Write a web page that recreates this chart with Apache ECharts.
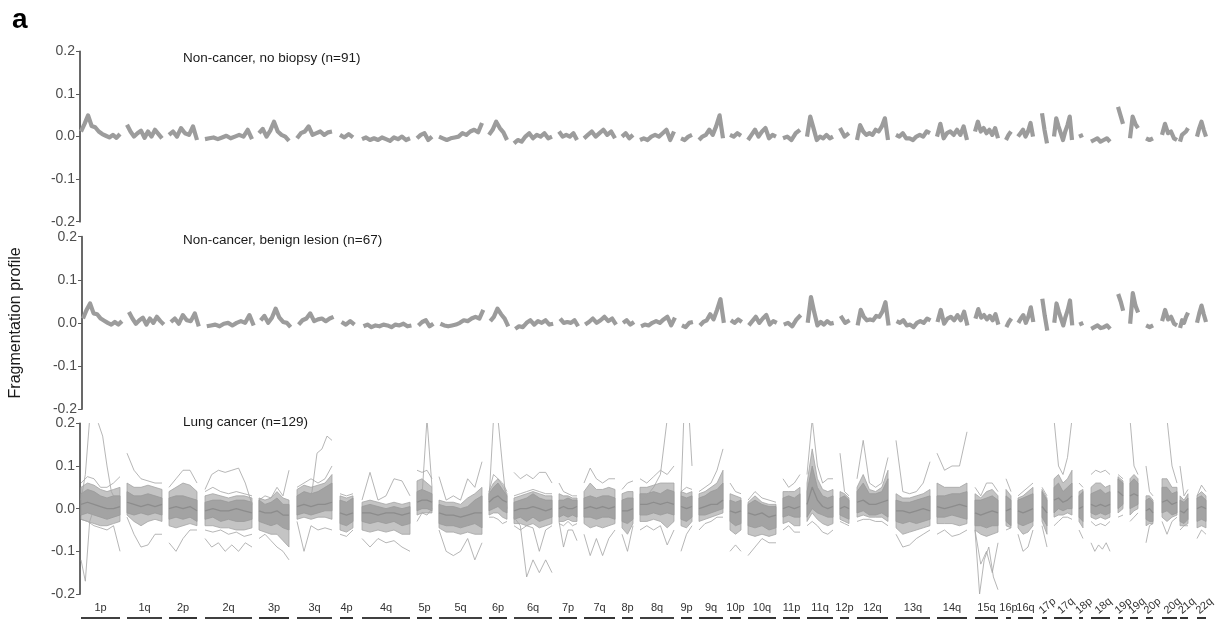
<!DOCTYPE html>
<html><head><meta charset="utf-8">
<script src="https://cdn.jsdelivr.net/npm/echarts@6/dist/echarts.min.js"></script>
<style>html,body{margin:0;padding:0;background:#fff}#c{width:1218px;height:632px}</style>
</head><body><div id="c"></div>
<script>
// ---- chromosome arms (x in genomic bin units) ----
const ARMS = ['1p','1q','2p','2q','3p','3q','4p','4q','5p','5q','6p','6q','7p','7q','8p','8q','9p','9q','10p','10q','11p','11q','12p','12q','13q','14q','15q','16p','16q','17p','17q','18p','18q','19p','19q','20p','20q','21q','22q'];
const ARM_START = [0.5,23.5,44.5,62.5,89.5,108.5,130,141,168.5,179.5,204.5,217,239.5,252,271,280,300.5,309.5,325,334,351.5,363.5,380,388.5,408,428.5,447.5,463,469,481,487,499.5,505.5,519,525,533,541,550,558.5];
const ARM_END   = [20,41,58.5,86,104.5,126,136.5,165,176,201,213.5,236,248.5,267.5,276.5,297,306,321.5,330.5,348,360,376.5,384.5,404,425,443.5,459,465.5,476.5,483.5,496,501.5,515,521.5,529,536.5,548.5,554,563];
const Y_TICKS = [-0.2,-0.1,0.0,0.1,0.2];
const PANEL_TITLES = ['Non-cancer, no biopsy (n=91)','Non-cancer, benign lesion (n=67)','Lung cancer (n=129)'];

// ---- panel 1: non-cancer, no biopsy (profile per arm) ----
const NOBIOPSY = [
 [0.012,0.03,0.05,0.025,0.022,0.012,0.006,0.002,-0.002,0.004,-0.003,0.006],
 [0.028,0.012,0.0,0.008,0.014,-0.003,0.012,0.0,0.016,0.006,-0.004],
 [0.004,0.012,0.0,0.02,0.008,0.004,0.024,-0.008],
 [-0.006,-0.004,-0.002,-0.006,-0.002,0.002,-0.004,0.0,0.004,0.0,0.016,-0.006],
 [0.008,0.018,0.0,0.014,0.035,0.012,0.004,0.0,-0.01],
 [-0.004,0.008,0.012,0.024,0.004,0.008,0.012,0.004,0.01,0.012],
 [0.004,-0.002,0.006,-0.002],
 [-0.006,-0.002,-0.008,-0.004,-0.008,-0.002,-0.006,-0.01,-0.002,-0.006,0.0,-0.008,-0.004],
 [-0.004,0.004,0.008,-0.008,0.0],
 [0.0,-0.004,-0.008,-0.004,-0.002,0.0,0.008,0.004,0.012,0.016,0.01,0.032],
 [0.004,0.016,0.035,0.02,0.01,-0.008],
 [-0.016,-0.008,-0.012,0.0,0.008,-0.004,0.004,0.0,0.008,-0.004,0.0],
 [0.012,0.0,0.004,0.0,0.008,-0.008],
 [-0.004,0.004,0.012,0.0,0.008,0.016,0.004,0.012,-0.004],
 [0.0,0.008,-0.004,0.004],
 [-0.008,-0.004,-0.008,0.0,0.004,0.0,0.008,0.016,-0.008,0.012],
 [-0.004,-0.008,0.0,0.004],
 [-0.008,0.0,0.004,0.016,0.004,0.024,0.05,-0.004],
 [0.004,0.0,0.008,0.002],
 [-0.008,0.004,0.016,0.0,0.012,0.02,-0.004,0.004,0.0],
 [-0.004,0.0,-0.008,0.008,0.016],
 [0.0,0.047,0.02,-0.008,0.0,-0.004,0.004,-0.004,0.0],
 [0.02,0.0,0.008],
 [-0.008,0.027,0.012,0.004,0.008,0.004,0.016,0.012,0.024,0.043,-0.008],
 [0.004,0.0,0.008,-0.004,-0.004,-0.008,0.0,0.004,0.0,0.012,0.008],
 [0.0,0.03,-0.004,0.008,0.012,0.004,0.016,0.004,0.024,-0.008],
 [0.012,0.035,0.012,0.02,0.008,0.016,0.004,0.02,-0.004],
 [-0.008,0.004,0.012],
 [0.0,0.008,0.016,0.0,0.012,0.032,0.0],
 [0.055,0.016,-0.016],
 [0.0,0.043,0.024,0.008,-0.008,0.012,0.027,0.047,-0.008],
 [0.0,0.004],
 [-0.012,-0.008,-0.004,-0.012,-0.008,-0.004,-0.012],
 [0.07,0.05,0.03],
 [-0.004,0.047,0.03,0.02],
 [-0.004,-0.008,-0.004],
 [0.004,0.03,0.008,0.012,-0.004,-0.008],
 [-0.012,0.004,0.0,0.012,0.02],
 [0.0,0.02,0.035,0.016,0.0]
];

// ---- panel 2: non-cancer, benign lesion ----
const BENIGN = [
 [0.01,0.03,0.045,0.022,0.02,0.01,0.005,0.0,-0.004,0.002,-0.004,0.004],
 [0.025,0.01,-0.002,0.006,0.012,-0.004,0.01,0.0,0.014,0.004,-0.004],
 [0.002,0.01,-0.002,0.018,0.006,0.004,0.022,-0.008],
 [-0.008,-0.006,-0.004,-0.008,-0.002,0.0,-0.006,0.0,0.004,0.0,0.018,-0.006],
 [0.006,0.016,0.0,0.012,0.033,0.012,0.002,0.0,-0.01],
 [-0.004,0.006,0.01,0.022,0.004,0.008,0.01,0.004,0.01,0.014],
 [0.002,-0.004,0.004,-0.004],
 [-0.008,-0.004,-0.01,-0.006,-0.008,-0.004,-0.006,-0.01,-0.004,-0.006,-0.002,-0.008,-0.006],
 [-0.006,0.002,0.006,-0.008,-0.002],
 [-0.002,-0.006,-0.008,-0.006,-0.004,0.0,0.006,0.004,0.01,0.014,0.01,0.03],
 [0.004,0.014,0.033,0.02,0.01,-0.008],
 [-0.014,-0.008,-0.01,0.0,0.006,-0.004,0.004,0.0,0.006,-0.004,-0.002],
 [0.01,0.0,0.002,0.0,0.006,-0.008],
 [-0.004,0.002,0.01,0.0,0.006,0.014,0.004,0.01,-0.004],
 [0.0,0.006,-0.004,0.002],
 [-0.008,-0.004,-0.006,0.0,0.004,0.0,0.008,0.014,-0.006,0.012],
 [-0.006,-0.01,0.0,0.002],
 [-0.006,0.002,0.006,0.02,0.008,0.03,0.055,0.0],
 [0.006,0.0,0.008,0.002],
 [-0.006,0.004,0.014,0.0,0.01,0.018,-0.004,0.004,0.0],
 [-0.004,0.0,-0.008,0.008,0.018],
 [0.0,0.06,0.025,-0.006,0.002,-0.004,0.004,-0.002,0.0],
 [0.016,0.0,0.006],
 [-0.006,0.03,0.014,0.006,0.008,0.006,0.016,0.014,0.026,0.048,-0.006],
 [0.004,0.0,0.006,-0.006,-0.004,-0.01,0.0,0.004,0.0,0.01,0.006],
 [0.002,0.03,-0.002,0.01,0.014,0.006,0.018,0.006,0.026,-0.006],
 [0.01,0.032,0.012,0.018,0.008,0.016,0.006,0.02,-0.004],
 [-0.01,0.002,0.01],
 [0.0,0.01,0.018,0.0,0.014,0.036,0.002],
 [0.056,0.016,-0.018],
 [0.0,0.045,0.026,0.01,-0.006,0.014,0.03,0.052,-0.006],
 [-0.004,0.0],
 [-0.014,-0.01,-0.006,-0.012,-0.01,-0.006,-0.014],
 [0.067,0.05,0.028],
 [-0.002,0.069,0.04,0.024],
 [-0.006,-0.01,-0.006],
 [0.004,0.03,0.008,0.014,-0.002,-0.006],
 [-0.012,0.006,0.0,0.014,0.024],
 [0.0,0.022,0.04,0.02,0.002]
];

// ---- panel 3: lung cancer ----
const LUNG_MID = [
 [0.01,0.015,0.01,0.005,0.0,0.0,0.005],
 [0.015,0.01,0.005,0.01,0.005,0.01],
 [0.0,0.005,0.0,0.005,-0.005],
 [-0.005,0.0,-0.005,-0.005,0.0,-0.005,-0.01],
 [-0.005,-0.01,-0.01,-0.005,-0.015,-0.015],
 [0.005,0.01,0.005,0.01,0.01,0.015],
 [-0.01,-0.015,-0.01],
 [-0.01,-0.01,-0.015,-0.01,-0.01,-0.015,-0.01],
 [0.015,0.02,0.02,0.015],
 [-0.01,-0.015,-0.015,-0.02,-0.015,-0.01,-0.01],
 [0.015,0.025,0.03,0.02,0.015],
 [-0.005,0.0,0.0,0.005,0.0,-0.005,0.0],
 [0.0,0.005,0.0,0.0,0.005],
 [0.0,0.005,0.0,0.005,0.0,0.005],
 [-0.005,-0.005,0.0],
 [0.01,0.01,0.015,0.01,0.015,0.01],
 [0.005,0.0,0.005],
 [0.0,0.005,0.01,0.01,0.02],
 [-0.005,-0.01,-0.005],
 [-0.01,-0.015,-0.01,-0.02,-0.015],
 [0.0,0.005,0.0,0.005],
 [0.01,0.05,0.02,0.005,0.0,0.005],
 [0.0,0.005,0.0],
 [0.015,0.02,0.01,0.01,0.015,0.02],
 [-0.005,-0.005,-0.01,-0.005,0.0,-0.005],
 [0.005,0.0,0.005,0.01,0.005],
 [-0.01,-0.015,-0.01,-0.005,-0.01],
 [-0.005,0.0],
 [-0.005,-0.01,-0.005,0.0],
 [0.005,-0.01],
 [0.02,0.025,0.015,0.02,0.03],
 [0.0,0.005],
 [0.01,0.005,0.01,0.005,0.01],
 [0.04,0.03],
 [0.03,0.035,0.03],
 [-0.005,0.0,-0.01],
 [0.015,0.02,0.01,0.015],
 [-0.005,-0.01,0.0],
 [0.0,0.005,0.0]
];
// densest part of the lung cancer profiles
const LUNG_CORE_HI = [
 [0.035,0.045,0.04,0.03,0.025,0.03,0.03],
 [0.04,0.03,0.03,0.035,0.03,0.025],
 [0.025,0.03,0.03,0.025,0.02],
 [0.015,0.02,0.02,0.015,0.02,0.02,0.015],
 [0.02,0.01,0.015,0.025,0.01,0.01],
 [0.03,0.04,0.035,0.04,0.05,0.06],
 [0.02,0.015,0.025],
 [0.005,0.01,0.005,0.0,0.005,0.0,0.005],
 [0.04,0.045,0.04,0.035],
 [0.01,0.005,0.005,0.0,0.005,0.02,0.03],
 [0.035,0.05,0.06,0.045,0.03],
 [0.015,0.02,0.025,0.035,0.025,0.02,0.02],
 [0.02,0.02,0.025,0.02,0.02],
 [0.025,0.03,0.025,0.03,0.03,0.025],
 [0.02,0.025,0.025],
 [0.035,0.035,0.04,0.035,0.045,0.04],
 [0.03,0.025,0.03],
 [0.025,0.03,0.04,0.045,0.06],
 [0.02,0.015,0.02],
 [0.01,0.02,0.01,0.005,0.005],
 [0.025,0.03,0.025,0.035],
 [0.04,0.1,0.05,0.03,0.025,0.03],
 [0.025,0.03,0.02],
 [0.04,0.06,0.035,0.035,0.04,0.07],
 [0.02,0.015,0.015,0.02,0.025,0.03],
 [0.03,0.03,0.035,0.035,0.04],
 [0.02,0.02,0.025,0.03,0.02],
 [0.03,0.02],
 [0.02,0.025,0.03,0.035],
 [0.04,0.02],
 [0.05,0.06,0.04,0.05,0.06],
 [0.03,0.04],
 [0.035,0.04,0.045,0.035,0.04],
 [0.07,0.06],
 [0.06,0.07,0.06],
 [0.02,0.025,0.015],
 [0.05,0.05,0.035,0.04],
 [0.02,0.015,0.025],
 [0.025,0.03,0.02]
];
const LUNG_CORE_LO = [
 [-0.015,-0.01,-0.015,-0.02,-0.025,-0.02,-0.015],
 [-0.01,-0.015,-0.01,-0.015,-0.01,-0.015],
 [-0.025,-0.02,-0.025,-0.02,-0.03],
 [-0.025,-0.02,-0.03,-0.025,-0.03,-0.03,-0.025],
 [-0.03,-0.035,-0.04,-0.035,-0.045,-0.05],
 [-0.015,-0.01,-0.015,-0.01,-0.005,-0.005],
 [-0.035,-0.04,-0.03],
 [-0.03,-0.035,-0.03,-0.035,-0.03,-0.04,-0.035],
 [-0.005,0.0,0.0,-0.005],
 [-0.035,-0.04,-0.04,-0.045,-0.04,-0.035,-0.045],
 [-0.005,0.0,0.005,-0.005,-0.01],
 [-0.025,-0.02,-0.03,-0.02,-0.03,-0.025,-0.02],
 [-0.02,-0.015,-0.02,-0.015,-0.02],
 [-0.02,-0.02,-0.025,-0.02,-0.02,-0.025],
 [-0.03,-0.035,-0.025],
 [-0.015,-0.015,-0.01,-0.015,-0.01,-0.015],
 [-0.025,-0.03,-0.02],
 [-0.015,-0.015,-0.01,-0.005,0.0],
 [-0.03,-0.04,-0.035],
 [-0.04,-0.045,-0.04,-0.05,-0.045],
 [-0.02,-0.015,-0.02,-0.02],
 [-0.02,0.0,-0.01,-0.015,-0.02,-0.02],
 [-0.015,-0.02,-0.025],
 [-0.01,-0.005,-0.015,-0.015,-0.01,-0.02],
 [-0.03,-0.035,-0.03,-0.035,-0.03,-0.025],
 [-0.02,-0.02,-0.015,-0.02,-0.025],
 [-0.04,-0.04,-0.045,-0.04,-0.04],
 [-0.03,-0.04],
 [-0.035,-0.04,-0.035,-0.03],
 [-0.02,-0.04],
 [-0.01,0.0,-0.005,0.0,0.0],
 [-0.02,-0.03],
 [-0.01,-0.015,-0.01,-0.015,-0.01],
 [0.0,0.01],
 [0.0,0.005,0.01],
 [-0.025,-0.03,-0.03],
 [-0.01,-0.005,-0.015,-0.01],
 [-0.03,-0.035,-0.025],
 [-0.03,-0.025,-0.03]
];
// zone where most samples lie
const LUNG_BAND_HI = [
 [0.05,0.06,0.055,0.045,0.04,0.045,0.05],
 [0.06,0.05,0.05,0.055,0.05,0.045],
 [0.04,0.05,0.06,0.055,0.04],
 [0.03,0.035,0.03,0.025,0.03,0.03,0.025],
 [0.025,0.02,0.025,0.04,0.025,0.02],
 [0.045,0.055,0.05,0.055,0.06,0.08],
 [0.03,0.025,0.03],
 [0.015,0.02,0.015,0.01,0.015,0.01,0.015],
 [0.065,0.07,0.06,0.05],
 [0.02,0.015,0.015,0.01,0.025,0.035,0.05],
 [0.04,0.06,0.07,0.055,0.035],
 [0.025,0.03,0.035,0.04,0.035,0.03,0.03],
 [0.035,0.03,0.03,0.025,0.025],
 [0.04,0.06,0.045,0.045,0.05,0.045],
 [0.035,0.04,0.04],
 [0.05,0.05,0.055,0.06,0.06,0.06],
 [0.04,0.035,0.04],
 [0.035,0.04,0.05,0.06,0.09],
 [0.035,0.03,0.025],
 [0.015,0.03,0.015,0.01,0.01],
 [0.04,0.04,0.04,0.05],
 [0.06,0.14,0.07,0.045,0.04,0.045],
 [0.04,0.035,0.025],
 [0.05,0.08,0.045,0.04,0.05,0.09],
 [0.035,0.025,0.025,0.03,0.035,0.045],
 [0.06,0.05,0.05,0.05,0.06],
 [0.035,0.025,0.04,0.045,0.03],
 [0.045,0.03],
 [0.025,0.03,0.04,0.05],
 [0.045,0.025],
 [0.07,0.08,0.06,0.07,0.09],
 [0.04,0.045],
 [0.05,0.06,0.06,0.05,0.055],
 [0.075,0.065],
 [0.07,0.08,0.07],
 [0.03,0.03,0.02],
 [0.07,0.07,0.05,0.05],
 [0.03,0.02,0.035],
 [0.03,0.04,0.03]
];
const LUNG_BAND_LO = [
 [-0.025,-0.03,-0.035,-0.04,-0.04,-0.035,-0.03],
 [-0.015,-0.03,-0.04,-0.03,-0.025,-0.03],
 [-0.04,-0.045,-0.04,-0.035,-0.04],
 [-0.04,-0.04,-0.045,-0.045,-0.05,-0.05,-0.045],
 [-0.05,-0.055,-0.06,-0.06,-0.075,-0.09],
 [-0.025,-0.02,-0.025,-0.02,-0.02,-0.025],
 [-0.05,-0.055,-0.045],
 [-0.05,-0.055,-0.05,-0.055,-0.05,-0.06,-0.06],
 [-0.015,-0.01,-0.01,-0.01],
 [-0.045,-0.055,-0.055,-0.06,-0.055,-0.06,-0.06],
 [-0.015,-0.01,-0.01,-0.02,-0.025],
 [-0.035,-0.035,-0.04,-0.035,-0.045,-0.04,-0.035],
 [-0.03,-0.03,-0.025,-0.03,-0.03],
 [-0.035,-0.045,-0.04,-0.045,-0.04,-0.035],
 [-0.045,-0.06,-0.035],
 [-0.03,-0.03,-0.025,-0.03,-0.045,-0.03],
 [-0.04,-0.045,-0.03],
 [-0.03,-0.025,-0.02,-0.015,-0.01],
 [-0.05,-0.06,-0.05],
 [-0.06,-0.065,-0.06,-0.065,-0.06],
 [-0.035,-0.03,-0.04,-0.04],
 [-0.03,-0.01,-0.025,-0.035,-0.04,-0.035],
 [-0.025,-0.03,-0.035],
 [-0.02,-0.015,-0.02,-0.02,-0.02,-0.03],
 [-0.045,-0.06,-0.055,-0.05,-0.045,-0.04],
 [-0.035,-0.035,-0.035,-0.04,-0.035],
 [-0.05,-0.06,-0.065,-0.06,-0.055],
 [-0.04,-0.045],
 [-0.045,-0.06,-0.055,-0.04],
 [-0.03,-0.06],
 [-0.02,-0.015,-0.015,-0.01,-0.015],
 [-0.03,-0.045],
 [-0.02,-0.025,-0.02,-0.025,-0.02],
 [-0.01,0.0],
 [-0.015,-0.005,0.0],
 [-0.04,-0.035,-0.035],
 [-0.02,-0.03,-0.02,-0.015],
 [-0.04,-0.04,-0.035],
 [-0.045,-0.04,-0.045]
];
// envelope of the more extreme samples
const LUNG_SPREAD_HI = [
 [0.06,0.075,0.07,0.05,0.05,0.06,0.075],
 [0.13,0.09,0.07,0.065,0.06,0.06],
 [0.05,0.07,0.09,0.09,0.06],
 [0.04,0.05,0.04,0.035,0.04,0.035,0.03],
 [0.02,0.03,0.025,0.05,0.03,0.09],
 [0.05,0.06,0.07,0.06,0.07,0.1],
 [0.035,0.03,0.035],
 [0.02,0.085,0.02,0.03,0.07,0.065,0.03],
 [0.09,0.085,0.09,0.07],
 [0.075,0.02,0.03,0.02,0.07,0.05,0.11],
 [0.04,0.08,0.07,0.06,0.04],
 [0.03,0.035,0.04,0.045,0.04,0.035,0.035],
 [0.06,0.04,0.035,0.03,0.03],
 [0.06,0.095,0.07,0.06,0.07,0.07],
 [0.045,0.06,0.065],
 [0.07,0.06,0.075,0.09,0.08,0.1],
 [0.04,0.05,0.045],
 [0.04,0.05,0.06,0.09,0.14],
 [0.06,0.04,0.035],
 [0.02,0.04,0.025,0.02,0.015],
 [0.07,0.05,0.06,0.08],
 [0.08,0.21,0.1,0.06,0.07,0.07],
 [0.13,0.04,0.03],
 [0.07,0.16,0.06,0.05,0.06,0.12],
 [0.16,0.04,0.035,0.04,0.06,0.11],
 [0.13,0.09,0.1,0.1,0.18],
 [0.05,0.03,0.06,0.06,0.04],
 [0.07,0.04],
 [0.03,0.04,0.05,0.06],
 [0.05,0.03],
 [0.21,0.1,0.08,0.12,0.21],
 [0.06,0.05],
 [0.08,0.09,0.085,0.09,0.08],
 [0.08,0.07],
 [0.21,0.1,0.08],
 [0.1,0.04,0.03],
 [0.21,0.21,0.1,0.06],
 [0.1,0.03,0.045],
 [0.03,0.055,0.04]
];
const LUNG_SPREAD_LO = [
 [-0.025,-0.03,-0.04,-0.045,-0.05,-0.04,-0.1],
 [-0.02,-0.06,-0.09,-0.085,-0.06,-0.06],
 [-0.08,-0.1,-0.07,-0.05,-0.05],
 [-0.05,-0.055,-0.05,-0.06,-0.055,-0.065,-0.06],
 [-0.07,-0.06,-0.075,-0.09,-0.1,-0.12],
 [-0.03,-0.1,-0.04,-0.05,-0.045,-0.05],
 [-0.06,-0.065,-0.05],
 [-0.07,-0.09,-0.07,-0.08,-0.075,-0.09,-0.1],
 [-0.03,-0.01,-0.015,0.0],
 [-0.05,-0.1,-0.11,-0.1,-0.07,-0.12,-0.08],
 [-0.02,-0.02,-0.025,-0.035,-0.03],
 [-0.04,-0.05,-0.04,-0.045,-0.1,-0.05,-0.04],
 [-0.035,-0.04,-0.03,-0.04,-0.035],
 [-0.06,-0.11,-0.07,-0.11,-0.07,-0.05],
 [-0.06,-0.1,-0.04],
 [-0.05,-0.04,-0.05,-0.04,-0.085,-0.05],
 [-0.1,-0.06,-0.04],
 [-0.05,-0.035,-0.03,-0.02,-0.02],
 [-0.1,-0.085,-0.1],
 [-0.11,-0.09,-0.07,-0.08,-0.08],
 [-0.05,-0.04,-0.055,-0.055],
 [-0.04,-0.03,-0.04,-0.055,-0.06,-0.05],
 [-0.03,-0.035,-0.04],
 [-0.03,-0.025,-0.025,-0.03,-0.03,-0.04],
 [-0.06,-0.09,-0.085,-0.07,-0.06,-0.05],
 [-0.06,-0.05,-0.065,-0.06,-0.05],
 [-0.05,-0.13,-0.1,-0.15,-0.08],
 [-0.05,-0.045],
 [-0.06,-0.1,-0.09,-0.05],
 [-0.04,-0.09],
 [-0.04,-0.03,-0.02,-0.02,-0.025],
 [-0.05,-0.07],
 [-0.03,-0.04,-0.035,-0.04,-0.03],
 [-0.02,-0.015],
 [-0.03,-0.02,-0.01],
 [-0.08,-0.04,-0.035],
 [-0.03,-0.06,-0.03,-0.02],
 [-0.05,-0.04,-0.04],
 [-0.07,-0.05,-0.06]
];
// individual extreme samples: [arm index, values along the arm]
const LUNG_OUTLIERS = [
 [0, [0.02,0.08,0.21,0.21,0.2,0.17,0.1,0.04,0.02,0.01]],
 [0, [-0.12,-0.17,-0.03,0.0,0.01,0.0,-0.01,0.0,0.01,0.0]],
 [3, [0.045,0.08,0.09,0.085,0.09,0.095,0.06,0.01]],
 [3, [-0.07,-0.09,-0.08,-0.1,-0.085,-0.1,-0.08,-0.09]],
 [5, [0.0,0.01,0.02,0.04,0.13,0.14,0.17,0.16]],
 [8, [0.02,0.03,0.21,0.05]],
 [10, [0.02,0.21,0.21,0.1,0.0]],
 [11, [0.085,0.07,0.08,0.07,0.085,0.085,0.06]],
 [11, [-0.02,-0.04,-0.16,-0.12,-0.15,-0.12,-0.15]],
 [12, [-0.03,-0.09,-0.05,-0.05,-0.075]],
 [15, [0.02,0.03,0.05,0.08,0.21,0.21]],
 [16, [0.03,0.21,0.21,0.21,0.1]],
 [26, [-0.05,-0.2,-0.12,-0.09,-0.16,-0.19]],
 [32, [-0.08,-0.1,-0.085,-0.095,-0.08,-0.1]]
];

// ---------- build ----------
const GRAY = '#9c9c9c';
function armXs(a, n) {
  const s = ARM_START[a], e = ARM_END[a];
  if (n === 1) return [(s + e) / 2];
  return Array.from({length: n}, (_, i) => s + (e - s) * i / (n - 1));
}
function profileData(perArm) {
  const out = [];
  perArm.forEach((vals, a) => {
    const xs = armXs(a, vals.length);
    vals.forEach((v, i) => out.push([xs[i], v]));
    out.push([ARM_END[a] + 0.5, null]);
  });
  return out;
}
function tracesData(list) {
  const out = [];
  list.forEach(([a, vals]) => {
    const xs = armXs(a, vals.length);
    vals.forEach((v, i) => out.push([xs[i], v]));
    out.push([ARM_END[a] + 0.5, null]);
  });
  return out;
}
function lineSeries(grid, data, width, color, z) {
  return {type: 'line', xAxisIndex: grid, yAxisIndex: grid, data, showSymbol: false, symbol: 'none',
    connectNulls: false, lineStyle: {width, color, join: 'round'}, z: z || 2, silent: true, animation: false};
}
function bandSeries(grid, hiArr, loArr, fill, stroke, z) {
  return {
    type: 'custom', xAxisIndex: grid, yAxisIndex: grid, silent: true, animation: false, z,
    data: ARMS.map((_, i) => [ARM_START[i], 0, i]),
    encode: {x: 0, y: 1},
    renderItem: function (params, api) {
      const a = api.value(2);
      const hi = hiArr[a], lo = loArr[a];
      const xh = armXs(a, hi.length), xl = armXs(a, lo.length);
      const pts = [];
      hi.forEach((v, i) => pts.push(api.coord([xh[i], v])));
      for (let i = lo.length - 1; i >= 0; i--) pts.push(api.coord([xl[i], lo[i]]));
      return {type: 'polygon', shape: {points: pts}, style: {fill, stroke, lineWidth: 0.8}};
    }
  };
}

const FONT = 'Liberation Sans, Arial, sans-serif';
const grids = [
  {left: 80, right: 8, top: 51.5, height: 170.2},
  {left: 80, right: 8, top: 236.7, height: 172.3},
  {left: 80, right: 8, top: 423.3, height: 170.7},
  {left: 80, right: 8, top: 598, height: 20}
];
const xAxes = grids.map((g, i) => ({type: 'value', gridIndex: i, min: 0, max: 565, show: false}));
const yAxes = [0, 1, 2].map(i => ({
  type: 'value', gridIndex: i, min: Y_TICKS[0], max: Y_TICKS[Y_TICKS.length - 1], interval: 0.1,
  axisLine: {show: true, lineStyle: {color: '#595959', width: 1.8}},
  axisTick: {show: true, length: 4, lineStyle: {color: '#595959', width: 1}},
  axisLabel: {show: true, color: '#4d4d4d', fontSize: 14, fontFamily: FONT, margin: 5,
    formatter: v => (Math.abs(v) < 1e-9 ? 0 : v).toFixed(1)},
  splitLine: {show: false},
  name: i === 1 ? 'Fragmentation profile' : '',
  nameLocation: 'middle', nameGap: 58, nameRotate: 90,
  nameTextStyle: {color: '#1a1a1a', fontSize: 16, fontFamily: FONT}
}));
yAxes.push({type: 'value', gridIndex: 3, min: 0, max: 1, show: false});

const series = [];
// panel 1 & 2: tight bands of overlapping profiles
series.push(lineSeries(0, profileData(NOBIOPSY), 4.2, GRAY, 3));
series.push(lineSeries(1, profileData(BENIGN), 4.2, GRAY, 3));
// panel 3
series.push(bandSeries(2, LUNG_BAND_HI, LUNG_BAND_LO, '#c4c4c4', '#a4a4a4', 1));
series.push(bandSeries(2, LUNG_CORE_HI, LUNG_CORE_LO, '#a3a3a3', '#999999', 2));
series.push(lineSeries(2, profileData(LUNG_MID), 1.3, '#8c8c8c', 3));
series.push(lineSeries(2, profileData(LUNG_SPREAD_HI), 0.8, '#a3a3a3', 2));
series.push(lineSeries(2, profileData(LUNG_SPREAD_LO), 0.8, '#a3a3a3', 2));
series.push(lineSeries(2, tracesData(LUNG_OUTLIERS), 0.8, '#a3a3a3', 2));
// arm bars + labels
series.push({
  type: 'custom', xAxisIndex: 3, yAxisIndex: 3, silent: true, animation: false,
  data: ARMS.map((_, i) => [ARM_START[i], 0, i]),
  encode: {x: 0, y: 1},
  renderItem: function (params, api) {
    const a = api.value(2);
    const p1 = api.coord([ARM_START[a], 0]);
    const p2 = api.coord([ARM_END[a], 0]);
    const cx = (p1[0] + p2[0]) / 2;
    const rotated = a >= 29;
    return {type: 'group', children: [
      {type: 'line', shape: {x1: p1[0], y1: p1[1], x2: p2[0], y2: p2[1]}, style: {stroke: '#000', lineWidth: 1.6}},
      {type: 'text', x: rotated ? cx + 3 : cx, y: rotated ? p1[1] - 12 : p1[1] - 10, rotation: rotated ? Math.PI / 4.5 : 0,
        style: {text: ARMS[a], x: 0, y: 0, align: 'center', verticalAlign: 'middle', textAlign: 'center', textVerticalAlign: 'middle',
          fill: '#333', font: '11px ' + FONT}}
    ]};
  }
});

const graphics = [
  {type: 'text', left: 12, top: 6, style: {text: 'a', fill: '#000', font: 'bold 28px ' + FONT}}
];
const titleY = [51, 233, 415];
PANEL_TITLES.forEach((t, i) => graphics.push({type: 'text', left: 183, top: titleY[i],
  style: {text: t, fill: '#1a1a1a', font: '13.5px ' + FONT}}));

const chart = echarts.init(document.getElementById('c'), null, {renderer: 'canvas'});
chart.setOption({
  animation: false, backgroundColor: '#fff',
  grid: grids, xAxis: xAxes, yAxis: yAxes, series, graphic: graphics
});
</script></body></html>
